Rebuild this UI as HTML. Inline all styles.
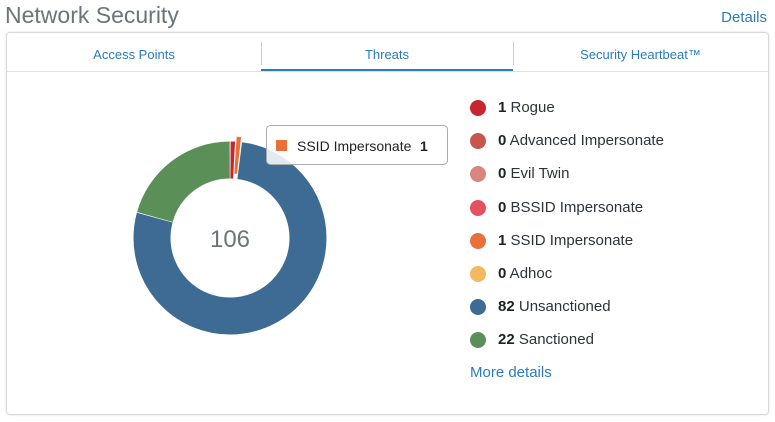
<!DOCTYPE html>
<html><head><meta charset="utf-8"><style>
body{margin:0;width:775px;height:422px;background:#fff;font-family:"Liberation Sans",sans-serif;position:relative;overflow:hidden}
.t{position:absolute;left:5px;top:2px;font-size:23px;color:#6d7479}
.d{position:absolute;right:8px;top:9px;font-size:15px;color:#2b7bc0}
.box{position:absolute;left:6px;top:32px;width:761px;height:381px;border:1px solid #d8dbde;border-radius:4px;box-shadow:0 0 2px #ddd}
.tabs{position:absolute;left:0;top:0;width:761px;height:38px;border-bottom:1px solid #dfe2e5}
.tab{position:absolute;top:0;height:38px;line-height:44px;text-align:center;font-size:13px;color:#2b7bc0}
.sep{position:absolute;top:9px;width:1px;height:23px;background:#ccc}
.lg{position:absolute;left:470px;font-size:15px;color:#2d3338;height:18px;line-height:18px}
.lg i{position:absolute;left:0;top:1px;width:16px;height:16px;border-radius:50%}
.lg span{position:absolute;left:28px;white-space:nowrap}
.lg b{color:#1c2227}
</style></head><body>
<div class="t">Network Security</div>
<div class="d">Details</div>
<div class="box">
<div class="tabs">
<div class="tab" style="left:0;width:254px">Access Points</div>
<div class="tab" style="left:254px;width:252px">Threats</div>
<div class="tab" style="left:506px;width:255px">Security Heartbeat™</div>
<div class="sep" style="left:254px"></div><div class="sep" style="left:506px"></div>
<div style="position:absolute;left:254px;width:252px;top:36px;height:2px;background:#2b7bc0"></div>
</div>
</div>
<svg style="position:absolute;left:0;top:0" width="775" height="422">
<g transform="translate(230,238) rotate(-90)" fill="none" stroke-width="37">
<circle r="78" stroke="#c9252f" stroke-dasharray="3.6 500" stroke-dashoffset="-0.5"/>
<circle r="78" stroke="#3d6b93" stroke-dasharray="378.3 600" stroke-dashoffset="-9.75"/>
<circle r="78" stroke="#5a9058" stroke-dasharray="100.9 600" stroke-dashoffset="-388.7"/>
</g>
<g transform="translate(230.4,233) rotate(-90)" fill="none" stroke-width="37">
<circle r="78" stroke="#e8703a" stroke-dasharray="3.6 500" stroke-dashoffset="-5.1"/>
</g>
<text x="230" y="247" text-anchor="middle" font-family="Liberation Sans" font-size="24" fill="#6d7479">106</text>
<rect x="266.5" y="125.5" width="181" height="39" rx="4" fill="rgba(255,255,255,0.85)" stroke="#a9adb1"/>
<rect x="276" y="140" width="11" height="11" fill="#e8703a"/>
<text x="297" y="151" font-family="Liberation Sans" font-size="14" fill="#222">SSID Impersonate</text>
<text x="420" y="151" font-family="Liberation Sans" font-size="14" font-weight="bold" fill="#222">1</text>
</svg>
<div class="lg" style="top:99px"><i style="background:#c9252f"></i><span><b>1</b> Rogue</span></div>
<div class="lg" style="top:132px"><i style="background:#c85550"></i><span><b>0</b> Advanced Impersonate</span></div>
<div class="lg" style="top:165px"><i style="background:#d98680"></i><span><b>0</b> Evil Twin</span></div>
<div class="lg" style="top:199px"><i style="background:#e6505e"></i><span><b>0</b> BSSID Impersonate</span></div>
<div class="lg" style="top:232px"><i style="background:#e8703a"></i><span><b>1</b> SSID Impersonate</span></div>
<div class="lg" style="top:265px"><i style="background:#f3b95e"></i><span><b>0</b> Adhoc</span></div>
<div class="lg" style="top:298px"><i style="background:#3d6b93"></i><span><b>82</b> Unsanctioned</span></div>
<div class="lg" style="top:331px"><i style="background:#5a9058"></i><span><b>22</b> Sanctioned</span></div>
<div class="lg" style="top:364px;color:#2b7bc0">More details</div>
</body></html>
